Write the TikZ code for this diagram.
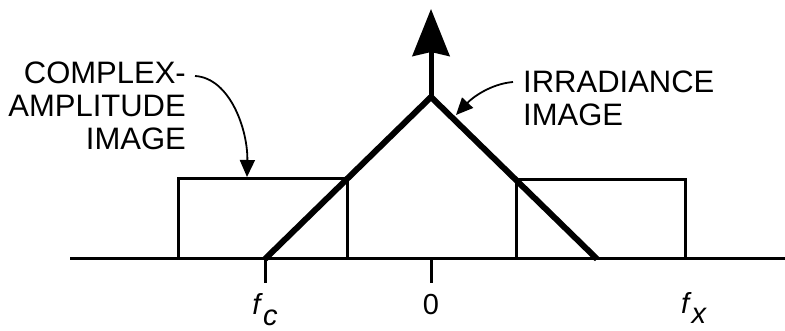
\documentclass[tikz,border=0pt]{standalone}
\usepackage{fontspec}
\setmainfont{Liberation Sans}
\usetikzlibrary{arrows.meta}
\begin{document}
\begin{tikzpicture}[x=1pt,y=-1pt,
  thin line/.style={line width=3pt},
  thick line/.style={line width=6pt,line join=miter},
  lbl/.style={inner sep=0pt,font=\fontsize{31}{33}\selectfont},
  axlbl/.style={inner sep=0pt,font=\fontsize{29}{29}\selectfont},
  callout/.style={line width=1.8pt,-{Triangle[length=17pt,width=15pt]}}]
\useasboundingbox (0,0) rectangle (785,331);
% coordinates
\coordinate (axL) at (70,259);
\coordinate (axR) at (785,259);
\coordinate (fc) at (265,259);
\coordinate (fcT) at (265,283);
\coordinate (zero) at (431,259);
\coordinate (zeroT) at (431,283);
\coordinate (peak) at (431,97);
\coordinate (tip) at (431,9);
\coordinate (tr) at (597,259);
\coordinate (lrA) at (178,259);
\coordinate (lrB) at (178,179);
\coordinate (lrC) at (347,179);
\coordinate (lrD) at (347,259);
\coordinate (rrA) at (516,259);
\coordinate (rrB) at (516,180);
\coordinate (rrC) at (685,180);
\coordinate (rrD) at (685,259);
% axis
\draw[thin line] (axL) -- (axR);
\draw[thin line] (fc) -- (fcT);
\draw[thin line] (zero) -- (zeroT);
% rectangles
\draw[thin line,line join=miter] (lrA) -- (lrB) -- (lrC) -- (lrD);
\draw[thin line,line join=miter] (rrA) -- (rrB) -- (rrC) -- (rrD);
% triangle
\draw[thick line] (fc) -- (peak) -- (tr);
% delta arrow
\draw[line width=5pt,-{Stealth[length=47pt,width=37pt,inset=4pt]}] (peak) -- (tip);
% labels
\node[lbl,align=right,anchor=north east] (cplx) at (186,62) {COMPLEX-\\AMPLITUDE\\IMAGE};
\node[lbl,align=left,anchor=north west] (irr) at (523,71) {IRRADIANCE\\IMAGE};
\coordinate (cplxS) at (195,76);
\coordinate (cplxE) at (247,177);
\draw[callout] (cplxS) .. controls (230,78) and (248,130) .. (cplxE);
\coordinate (irrS) at (513,82);
\coordinate (irrE) at (456,115);
\draw[callout] (irrS) .. controls (490,84) and (472,98) .. (irrE);
\node[axlbl,anchor=base] (lfc) at (265,315) {\textit{f}\raisebox{-10pt}{\textit{c}}};
\node[axlbl,anchor=base] (l0) at (431,315) {0};
\node[axlbl,anchor=base] (lfx) at (694,313) {\textit{f}\raisebox{-10pt}{\textit{x}}};
\end{tikzpicture}
\end{document}
